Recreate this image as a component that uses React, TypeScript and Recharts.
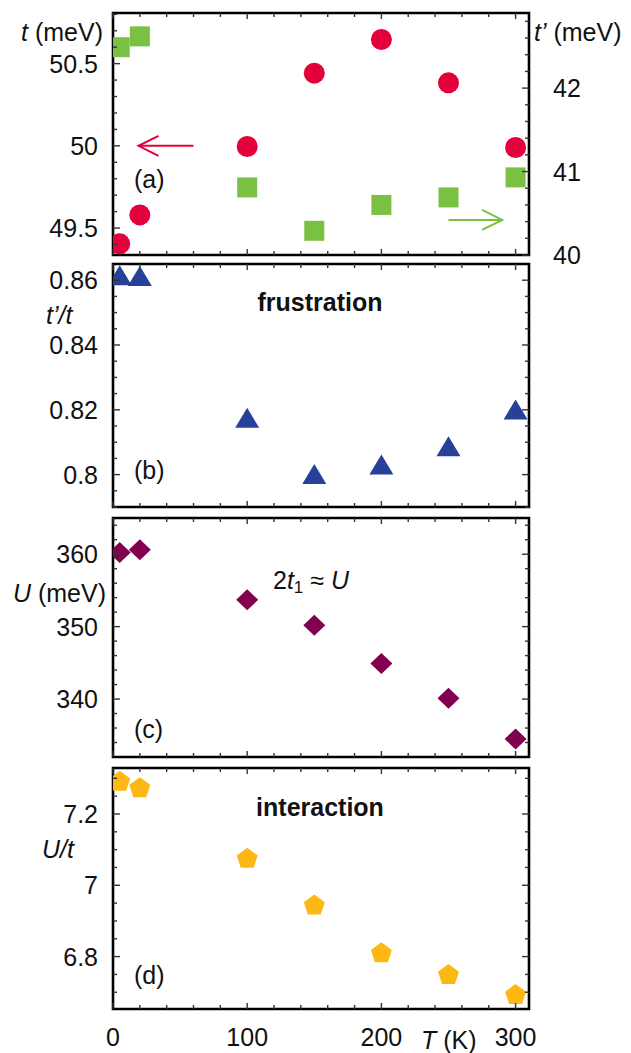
import React from 'react';
import { ScatterChart, Scatter, XAxis, YAxis, ReferenceArea, ReferenceLine } from 'recharts';

// temperature (K) for every panel
const temps = [5, 20, 100, 150, 200, 250, 300];
// (a) hopping t (left axis) and t' (right axis), meV
const tValues = [49.404, 49.58, 49.996, 50.442, 50.647, 50.383, 49.99];
const tPrimeValues = [42.49, 42.62, 40.81, 40.29, 40.6, 40.69, 40.93];
// (b) frustration t'/t
const ratioValues = [0.8605, 0.8603, 0.8165, 0.7992, 0.8021, 0.8077, 0.8191];
// (c) U (meV)
const uValues = [360.23, 360.6, 353.7, 350.2, 344.9, 340.1, 334.5];
// (d) interaction U/t
const uOverTValues = [7.293, 7.275, 7.077, 6.946, 6.812, 6.751, 6.695];

const xMajor = [0, 100, 200, 300];
const tMajor = [49.5, 50, 50.5];
const tPrimeMajor = [40, 41, 42];
const ratioMajor = [0.8, 0.82, 0.84, 0.86];
const uMajor = [340, 350, 360];
const uOverTMajor = [6.8, 7, 7.2];

const FONT = '"Liberation Sans", Arial, Helvetica, sans-serif';
const W = 631;
const PL = 113; // frame left
const PR = 529; // frame right
const PAD = 40;
const EXTRA = 24; // room below the last panel for the T labels

const steps = (a: number, b: number, s: number) => {
  const out: number[] = [];
  for (let v = a; v <= b + s / 1000; v += s) out.push(Number(v.toFixed(4)));
  return out;
};
const xTicks = steps(0, 300, 20);
const toRows = (vals: number[]) => temps.map((T, i) => ({ T, v: vals[i] }));
const isIn = (arr: number[], v: number) => arr.some(m => Math.abs(m - v) < 1e-6);

const txt = { fontFamily: FONT, fontSize: 25, fill: '#111' } as const;

const xTick = (h: number, labels: boolean) => (p: any) => {
  const v = p.payload.value;
  const len = isIn(xMajor, v) ? 6 : 4;
  const bottom = PAD + h;
  return (
    <g>
      <line x1={p.x} x2={p.x} y1={bottom} y2={bottom - len} stroke="#333" strokeWidth={1.4} />
      <line x1={p.x} x2={p.x} y1={PAD} y2={PAD + len} stroke="#333" strokeWidth={1.4} />
      {labels && isIn(xMajor, v) && (
        <text x={p.x} y={bottom + 28} textAnchor="middle" dominantBaseline="central" {...txt}>{v}</text>
      )}
    </g>
  );
};

const leftTick = (major: number[], mirror: boolean) => (p: any) => {
  const v = p.payload.value;
  const m = isIn(major, v);
  const len = m ? 7 : 4;
  return (
    <g>
      <line x1={PL} x2={PL + len} y1={p.y} y2={p.y} stroke="#333" strokeWidth={1.4} />
      {mirror && <line x1={PR} x2={PR - len} y1={p.y} y2={p.y} stroke="#333" strokeWidth={1.4} />}
      {m && <text x={98} y={p.y} textAnchor="end" dominantBaseline="central" {...txt}>{v}</text>}
    </g>
  );
};

const rightTick = (major: number[]) => (p: any) => {
  const v = p.payload.value;
  const m = isIn(major, v);
  const len = m ? 7 : 4;
  return (
    <g>
      <line x1={PR} x2={PR - len} y1={p.y} y2={p.y} stroke="#333" strokeWidth={1.4} />
      {m && <text x={553} y={p.y} textAnchor="start" dominantBaseline="central" {...txt}>{v}</text>}
    </g>
  );
};

const arrow = (color: string) => (p: any) => {
  const { x1, y1, x2, y2 } = p;
  const d = Math.sign(x2 - x1);
  return (
    <g>
      <line x1={x1} y1={y1} x2={x2} y2={y2} stroke={color} strokeWidth={2} />
      <polyline points={`${x2 - d * 20},${y2 - 10} ${x2},${y2} ${x2 - d * 20},${y2 + 10}`} fill="none" stroke={color} strokeWidth={2} />
    </g>
  );
};

const circle = (p: any) => <circle cx={p.cx} cy={p.cy} r={10.5} fill="#E4003A" />;
const square = (p: any) => <rect x={p.cx - 10} y={p.cy - 10} width={20} height={20} fill="#7AC143" />;
const triangle = (p: any) => (
  <polygon points={`${p.cx - 12},${p.cy + 6.7} ${p.cx + 12},${p.cy + 6.7} ${p.cx},${p.cy - 13.3}`} fill="#27409A" />
);
const diamond = (p: any) => (
  <polygon points={`${p.cx},${p.cy - 10.5} ${p.cx + 11},${p.cy} ${p.cx},${p.cy + 10.5} ${p.cx - 11},${p.cy}`} fill="#820050" />
);
const pentagon = (p: any) => {
  const pts = [0, 1, 2, 3, 4].map(k => {
    const a = (-90 + k * 72) * Math.PI / 180;
    return `${p.cx + 11 * Math.cos(a)},${p.cy + 1 + 11 * Math.sin(a)}`;
  });
  return <polygon points={pts.join(' ')} fill="#FDB813" />;
};

type PanelProps = {
  top: number;
  h: number;
  domain: [number, number];
  yTicks: number[];
  yMajor: number[];
  rows: { T: number; v: number }[];
  shape: (p: any) => React.ReactElement;
  xLabels?: boolean;
};

const Panel = ({ top, h, domain, yTicks, yMajor, rows, shape, xLabels = false }: PanelProps) => {
  const extra = xLabels ? EXTRA : 0;
  return (
    <div style={{ position: 'absolute', left: 0, top: top - PAD }}>
      <ScatterChart width={W} height={h + 2 * PAD + extra} margin={{ top: 0, right: 0, bottom: extra, left: 0 }}>
        <XAxis type="number" dataKey="T" xAxisId="b" domain={[0, 310]} ticks={xTicks} interval={0}
          allowDataOverflow height={PAD} axisLine={false} tickLine={false} tick={xTick(h, xLabels)} />
        <XAxis type="number" dataKey="T" xAxisId="t" orientation="top" domain={[0, 310]} ticks={[]}
          allowDataOverflow height={PAD} axisLine={false} tickLine={false} tick={false} />
        <YAxis type="number" dataKey="v" yAxisId="l" domain={domain} ticks={yTicks} interval={0}
          allowDataOverflow width={PL} axisLine={false} tickLine={false} tick={leftTick(yMajor, true)} />
        <YAxis type="number" dataKey="v" yAxisId="r" orientation="right" domain={domain} ticks={[]}
          allowDataOverflow width={W - PR} axisLine={false} tickLine={false} tick={false} />
        <ReferenceArea xAxisId="b" yAxisId="l" x1={0} x2={310} y1={domain[0]} y2={domain[1]}
          fill="none" stroke="#000" strokeWidth={2.6} />
        <Scatter data={rows} xAxisId="b" yAxisId="l" shape={shape} isAnimationActive={false} />
      </ScatterChart>
    </div>
  );
};

const PanelA = () => {
  const h = 242;
  const leftDomain: [number, number] = [49.336, 50.808];
  const rightDomain: [number, number] = [40, 42.9];
  return (
    <div style={{ position: 'absolute', left: 0, top: 13 - PAD }}>
      <ScatterChart width={W} height={h + 2 * PAD} margin={{ top: 0, right: 0, bottom: 0, left: 0 }}>
        <XAxis type="number" dataKey="T" xAxisId="b" domain={[0, 310]} ticks={xTicks} interval={0}
          allowDataOverflow height={PAD} axisLine={false} tickLine={false} tick={xTick(h, false)} />
        <XAxis type="number" dataKey="T" xAxisId="t" orientation="top" domain={[0, 310]} ticks={[]}
          allowDataOverflow height={PAD} axisLine={false} tickLine={false} tick={false} />
        <YAxis type="number" dataKey="v" yAxisId="l" domain={leftDomain} ticks={steps(49.4, 50.8, 0.1)} interval={0}
          allowDataOverflow width={PL} axisLine={false} tickLine={false} tick={leftTick(tMajor, false)} />
        <YAxis type="number" dataKey="v" yAxisId="r" orientation="right" domain={rightDomain}
          ticks={steps(40, 42.8, 0.2)} interval={0} allowDataOverflow width={W - PR}
          axisLine={false} tickLine={false} tick={rightTick(tPrimeMajor)} />
        <ReferenceArea xAxisId="b" yAxisId="l" x1={0} x2={310} y1={leftDomain[0]} y2={leftDomain[1]}
          fill="none" stroke="#000" strokeWidth={2.6} />
        <ReferenceLine xAxisId="b" yAxisId="l" segment={[{ x: 60, y: 50 }, { x: 19, y: 50 }]}
          shape={arrow('#E4003A')} />
        <ReferenceLine xAxisId="b" yAxisId="r" segment={[{ x: 250, y: 40.42 }, { x: 290, y: 40.42 }]}
          shape={arrow('#7AC143')} />
        <Scatter data={toRows(tPrimeValues)} xAxisId="b" yAxisId="r" shape={square} isAnimationActive={false} />
        <Scatter data={toRows(tValues)} xAxisId="b" yAxisId="l" shape={circle} isAnimationActive={false} />
      </ScatterChart>
    </div>
  );
};

const Labels = () => (
  <svg width={W} height={1053} style={{ position: 'absolute', left: 0, top: 0, pointerEvents: 'none' }}>
    <g {...txt} dominantBaseline="central">
      <text x={103} y={32} textAnchor="end"><tspan fontStyle="italic">t</tspan> (meV)</text>
      <text x={534} y={32}><tspan fontStyle="italic">t’</tspan> (meV)</text>
      <text x={134} y={179}>(a)</text>
      <text x={134} y={470}>(b)</text>
      <text x={134} y={729}>(c)</text>
      <text x={134} y={975}>(d)</text>
      <text x={46} y={315} fontStyle="italic">t’/t</text>
      <text x={106} y={593} textAnchor="end"><tspan fontStyle="italic">U</tspan> (meV)</text>
      <text x={42} y={849} fontStyle="italic">U/t</text>
      <text x={421} y={1040}><tspan fontStyle="italic">T</tspan> (K)</text>
      <text x={320} y={302} textAnchor="middle" fontWeight="bold">frustration</text>
      <text x={320} y={807} textAnchor="middle" fontWeight="bold">interaction</text>
      <text x={273} y={580}>
        2<tspan fontStyle="italic">t</tspan>
        <tspan fontSize={17} dy={7}>1</tspan>
        <tspan dy={-7}> ≈ </tspan>
        <tspan fontStyle="italic">U</tspan>
      </text>
    </g>
  </svg>
);

export default function App() {
  return (
    <div style={{ position: 'absolute', left: 0, top: 0, width: W, height: 1053, background: '#fff', overflow: 'hidden' }}>
      <PanelA />
      <Panel top={264} h={243} domain={[0.79, 0.865]} yTicks={steps(0.79, 0.86, 0.005)}
        yMajor={ratioMajor} rows={toRows(ratioValues)} shape={triangle} />
      <Panel top={518} h={239} domain={[332, 365]} yTicks={steps(334, 364, 2)}
        yMajor={uMajor} rows={toRows(uValues)} shape={diamond} />
      <Panel top={768} h={241} domain={[6.653, 7.329]} yTicks={steps(6.7, 7.3, 0.05)}
        yMajor={uOverTMajor} rows={toRows(uOverTValues)} shape={pentagon} xLabels />
      <Labels />
    </div>
  );
}
